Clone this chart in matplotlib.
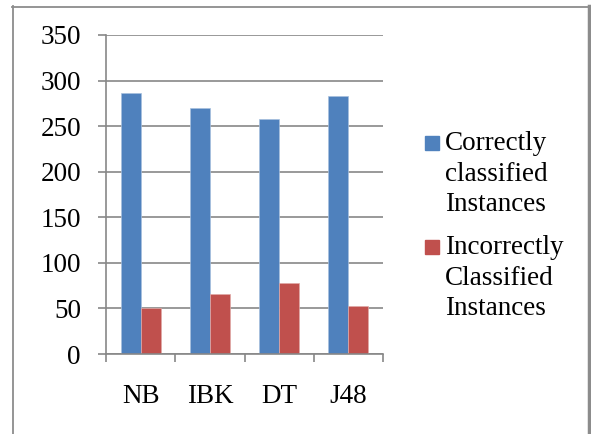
import matplotlib
matplotlib.use("Agg")
import matplotlib.pyplot as plt
import numpy as np
from matplotlib.lines import Line2D
from matplotlib.patches import Rectangle

categories = ["NB", "IBK", "DT", "J48"]
correct = [286, 270, 258, 283]
incorrect = [50, 66, 78, 53]
series_labels = ["Correctly\nclassified\nInstances", "Incorrectly\nClassified\nInstances"]
y_ticks = [0, 50, 100, 150, 200, 250, 300, 350]

BLUE = "#4F81BD"
RED = "#C0504D"
GRID = "#878787"
FS = 19.5

plt.rcParams["font.family"] = ["Liberation Serif", "DejaVu Serif"]

W, H = 591, 434
fig = plt.figure(figsize=(W / 100, H / 100), dpi=100)
ax = fig.add_axes([106 / W, 80 / H, (383 - 106) / W, (354 - 35) / H])

x = np.arange(len(categories))
bw = 0.29
ax.bar(x - bw / 2, correct, width=bw, color=BLUE, edgecolor="#A7C0DE", linewidth=0.5, zorder=3)
ax.bar(x + bw / 2, incorrect, width=bw, color=RED, edgecolor="#E0A9A7", linewidth=0.5, zorder=3)

ax.set_xlim(-0.5, len(categories) - 0.5)
ax.set_ylim(0, 350)
ax.set_yticks(y_ticks)
ax.set_yticklabels([str(v) for v in y_ticks], fontsize=FS)
ax.set_xticks(x)
ax.set_xticklabels(categories, fontsize=FS)
ax.tick_params(axis="x", length=0, pad=21.5)
ax.set_xticks(np.arange(len(categories) + 1) - 0.5, minor=True)
ax.tick_params(axis="x", which="minor", length=6, width=1.2, color=GRID, direction="out")
ax.tick_params(axis="y", length=6, width=1.2, color=GRID, pad=12, direction="out")

ax.yaxis.grid(True, color=GRID, linewidth=1.2, zorder=0)
ax.set_axisbelow(True)
for side in ["top", "right"]:
    ax.spines[side].set_visible(False)
for side in ["left", "bottom"]:
    ax.spines[side].set_color(GRID)
    ax.spines[side].set_linewidth(1.2)
    ax.spines[side].set_zorder(4)

# legend, drawn in figure pixels
def fx(px):
    return px / W

def fy(py):
    return 1 - py / H

legend_rows = [(BLUE, series_labels[0], 143), (RED, series_labels[1], 247)]
for color, label, ymid in legend_rows:
    fig.add_artist(Rectangle((fx(425), fy(ymid + 7)), 14 / W, 14 / H,
                             transform=fig.transFigure, color=color))
    fig.text(fx(445), fy(ymid - 12), label, fontsize=FS, va="top", ha="left",
             linespacing=1.3)

# chart frame
fig.add_artist(Line2D([fx(12.5), fx(12.5)], [fy(6), 0], transform=fig.transFigure,
                      color="#8C8C8C", linewidth=1.3))
fig.add_artist(Line2D([fx(12), fx(588)], [fy(6.5), fy(6.5)], transform=fig.transFigure,
                      color="#8C8C8C", linewidth=1.3))
fig.add_artist(Line2D([fx(588.5), fx(588.5)], [fy(6), 0], transform=fig.transFigure,
                      color="#8C8C8C", linewidth=2.5))

fig.savefig("out.png", dpi=100)
